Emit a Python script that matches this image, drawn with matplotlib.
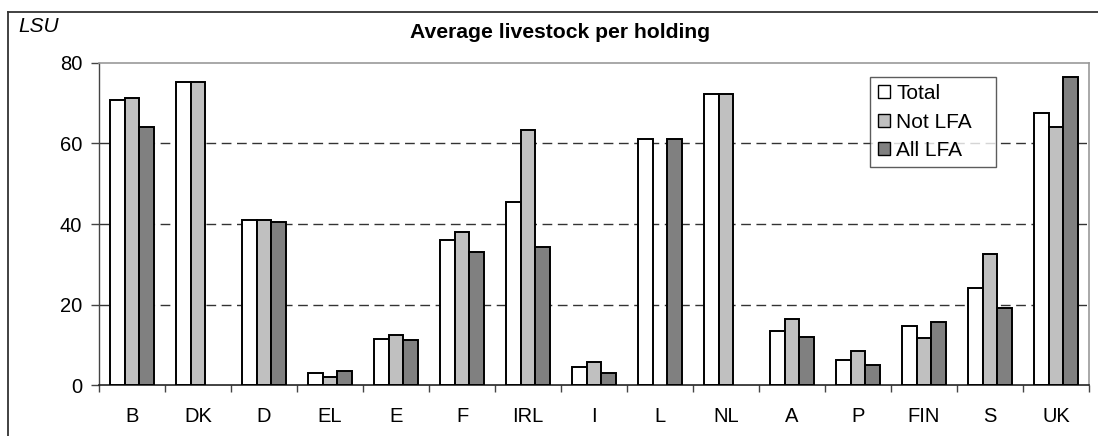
import numpy as np
import matplotlib
matplotlib.use('Agg')
import matplotlib.pyplot as plt
from matplotlib.lines import Line2D

plt.rcParams['font.family'] = ['Liberation Sans', 'DejaVu Sans']

countries = ['B', 'DK', 'D', 'EL', 'E', 'F', 'IRL', 'I', 'L', 'NL', 'A', 'P', 'FIN', 'S', 'UK']
total   = [70.8, 75.4, 41.0, 3.1, 11.5, 36.1, 45.5, 4.4, 61.1, 72.2, 13.3, 6.2, 14.7, 24.0, 67.7]
not_lfa = [71.3, 75.4, 41.0, 2.1, 12.4, 37.9, 63.4, 5.7, np.nan, 72.2, 16.5, 8.4, 11.6, 32.6, 64.2]
all_lfa = [64.2, np.nan, 40.5, 3.6, 11.1, 33.0, 34.3, 3.1, 61.1, np.nan, 12.0, 4.9, 15.6, 19.2, 76.6]

series = [('Total', total, 'white'),
          ('Not LFA', not_lfa, '#c0c0c0'),
          ('All LFA', all_lfa, '#808080')]

W, H = 1098, 436
fig = plt.figure(figsize=(W / 100, H / 100), dpi=100)
ax = fig.add_axes([99 / W, 1 - 385 / H, 990 / W, 322 / H])

x = np.arange(len(countries))
bw = 0.222
for i, (name, vals, col) in enumerate(series):
    v = np.array(vals, dtype=float)
    ok = ~np.isnan(v)
    ax.bar(x[ok] + (i - 1) * bw, v[ok], width=bw, color=col,
           edgecolor='black', linewidth=1.4, label=name, zorder=3)

ax.set_xlim(-0.5, len(countries) - 0.5)
ax.set_ylim(0, 80)
ax.set_yticks([0, 20, 40, 60, 80])
for yv in [20, 40, 60]:
    ax.axhline(yv, color='#333333', lw=1.0, ls=(0, (7, 4)), zorder=1)

ax.set_xticks(x)
ax.set_xticklabels(countries)
ax.set_xticks(np.arange(-0.5, len(countries)), minor=True)
ax.tick_params(axis='x', which='major', length=0, pad=16, labelsize=14.5)
ax.tick_params(axis='x', which='minor', length=5, width=1, color='#444444', direction='out')
ax.tick_params(axis='y', length=6, width=1, color='#444444', pad=6, labelsize=14.5)

for s in ['top', 'right']:
    ax.spines[s].set_color('#999999')
    ax.spines[s].set_linewidth(1.2)
ax.spines['left'].set_color('#444444')
ax.spines['left'].set_linewidth(1.0)
ax.spines['bottom'].set_color('#222222')
ax.spines['bottom'].set_linewidth(1.2)

leg = ax.legend(loc='upper left', bbox_to_anchor=(0.779, 0.674, 0.127, 0.283),
                mode='expand', fontsize=15,
                frameon=True, fancybox=False, shadow=False, borderpad=0.35,
                handlelength=0.6, handleheight=0.6, handletextpad=0.3,
                labelspacing=0.45, borderaxespad=0)
leg.get_frame().set_edgecolor('#333333')
leg.get_frame().set_linewidth(1.0)
for p in leg.get_patches():
    p.set_linewidth(1.0)

# outer chart frame (left and top edges)
fig.add_artist(Line2D([8 / W, 8 / W], [0, 1 - 12 / H], color='#333333', lw=1.3))
fig.add_artist(Line2D([8 / W, 1], [1 - 12 / H, 1 - 12 / H], color='#333333', lw=1.3))

fig.text(560 / W, 1 - 32 / H, 'Average livestock per holding', ha='center', va='center',
         fontsize=15.2, fontweight='bold')
fig.text(18 / W, 1 - 26 / H, 'LSU', ha='left', va='center', fontsize=15, style='italic')

fig.savefig('out.png', dpi=100)
